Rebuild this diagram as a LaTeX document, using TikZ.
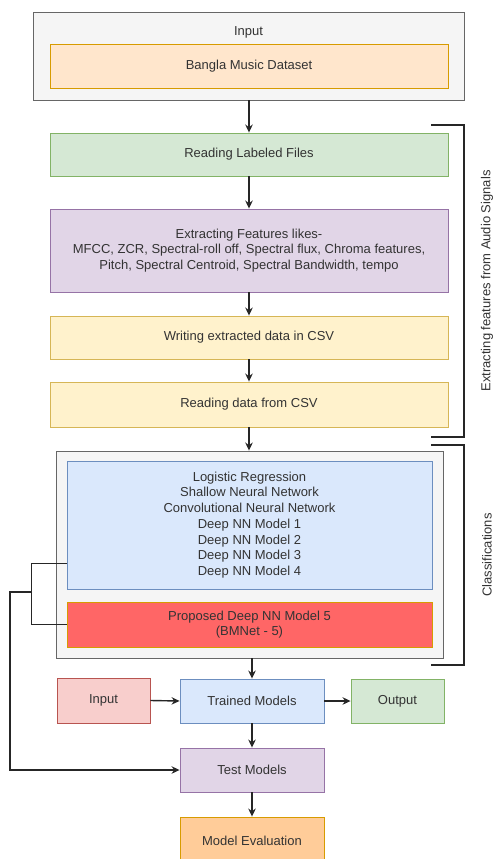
\documentclass[tikz,border=0pt]{standalone}
\usepackage{fontspec}
\setmainfont{Liberation Sans}
\usetikzlibrary{arrows.meta,calc}
\definecolor{txt}{HTML}{333333}
\definecolor{grayF}{HTML}{F5F5F5}\definecolor{grayS}{HTML}{666666}
\definecolor{orF}{HTML}{FFE6CC}\definecolor{orS}{HTML}{D79B00}
\definecolor{grF}{HTML}{D5E8D4}\definecolor{grS}{HTML}{82B366}
\definecolor{puF}{HTML}{E1D5E7}\definecolor{puS}{HTML}{9673A6}
\definecolor{yeF}{HTML}{FFF2CC}\definecolor{yeS}{HTML}{D6B656}
\definecolor{blF}{HTML}{DAE8FC}\definecolor{blS}{HTML}{6C8EBF}
\definecolor{rdF}{HTML}{FF6666}\definecolor{rdS}{HTML}{D79B00}
\definecolor{pkF}{HTML}{F8CECC}\definecolor{pkS}{HTML}{B85450}
\definecolor{evF}{HTML}{FFCC99}\definecolor{evS}{HTML}{D79B00}
\begin{document}
\begin{tikzpicture}[x=1pt,y=-1pt,
  box/.style={draw, line width=0.9pt, rectangle, inner sep=0pt, align=center,
    text=txt, font=\fontsize{13}{15.7}\selectfont},
  lbl/.style={text=txt, inner sep=0pt, font=\fontsize{13}{15.7}\selectfont},
  conn/.style={draw=black!85, line width=1.4pt},
  arr/.style={conn, -{Stealth[length=8pt,width=7.5pt]}},
  brk/.style={draw=black!85, line width=1.2pt}]
\useasboundingbox (0,0) rectangle (493,859);
% input group
\node[box, fill=grayF, draw=grayS, minimum width=431pt, minimum height=88pt] (inbox) at (248.5,56) {};
\node[lbl] (inlabel) at (248.5,32) {Input};
\node[box, fill=orF, draw=orS, minimum width=398pt, minimum height=44pt] (bangla) at (249,66) {Bangla Music Dataset};
% feature extraction
\node[box, fill=grF, draw=grS, minimum width=398pt, minimum height=43pt] (readlab) at (249,154.5) {Reading Labeled Files};
\node[box, fill=puF, draw=puS, minimum width=398pt, minimum height=83pt] (extract) at (249,250.5)
  {Extracting Features likes-\\MFCC, ZCR, Spectral-roll off, Spectral flux, Chroma features,\\Pitch, Spectral Centroid, Spectral Bandwidth, tempo};
\node[box, fill=yeF, draw=yeS, minimum width=398pt, minimum height=43pt] (write) at (249,337.5) {Writing extracted data in CSV};
\node[box, fill=yeF, draw=yeS, minimum width=398pt, minimum height=45pt] (readcsv) at (249,404.5) {Reading data from CSV};
% classification
\node[box, fill=grayF, draw=grayS, minimum width=387pt, minimum height=207pt] (classbox) at (249.5,554.5) {};
\node[box, fill=blF, draw=blS, minimum width=365pt, minimum height=128pt] (blue) at (249.5,525)
  {Logistic Regression\\Shallow Neural Network\\Convolutional Neural Network\\Deep NN Model 1\\Deep NN Model 2\\Deep NN Model 3\\Deep NN Model 4};
\node[box, fill=rdF, draw=rdS, minimum width=365pt, minimum height=45pt] (red) at (249.5,624.5)
  {Proposed Deep NN Model 5\\(BMNet - 5)};
% bottom
\node[box, fill=pkF, draw=pkS, minimum width=93pt, minimum height=45pt] (inp) at (103.5,700.5) {Input};
\node[box, fill=blF, draw=blS, minimum width=144pt, minimum height=44pt] (trained) at (252,701) {Trained Models};
\node[box, fill=grF, draw=grS, minimum width=93pt, minimum height=44pt] (output) at (397.5,701) {Output};
\node[box, fill=puF, draw=puS, minimum width=144pt, minimum height=44pt] (test) at (252,770) {Test Models};
\node[box, fill=evF, draw=evS, minimum width=144pt, minimum height=47pt] (eval) at (252,840.5) {Model Evaluation};
% vertical arrows
\draw[arr] (inbox.south -| bangla.south) -- (readlab.north);
\draw[arr] (readlab.south) -- (extract.north);
\draw[arr] (extract.south) -- (write.north);
\draw[arr] (write.south) -- (readcsv.north);
\draw[arr] (readcsv.south) -- (readcsv.south |- classbox.north);
\draw[arr] (classbox.south -| trained.north) -- (trained.north);
\draw[arr] (inp.east) -- (trained.west);
\draw[arr] (trained.east) -- (trained.east -| output.west);
\draw[arr] (trained.south) -- (test.north);
\draw[arr] (test.south) -- (eval.north);
% left connectors
\coordinate (bl) at ($(blue.south west)+(0,-26)$);
\coordinate (jtop) at ($(bl)+(-35,0)$);
\coordinate (jn) at (32,592);
\coordinate (far) at (10,592);
\draw[conn] (bl) -- (jtop) |- (red.west);
\draw[arr] (jn) -- (far) |- (test.west);
% brackets
\coordinate (b1a) at (431,125); \coordinate (b1b) at (464,125);
\coordinate (b1c) at (464,437); \coordinate (b1d) at (431,437);
\draw[brk] (b1a) -- (b1b) -- (b1c) -- (b1d);
\coordinate (b2a) at (431,445); \coordinate (b2b) at (464,445);
\coordinate (b2c) at (464,665); \coordinate (b2d) at (431,665);
\draw[brk] (b2a) -- (b2b) -- (b2c) -- (b2d);
\node[lbl, rotate=90] (extlbl) at (487,281) {Extracting features from Audio Signals};
\node[lbl, rotate=90] (clslbl) at (487,555) {Classifications};
\end{tikzpicture}
\end{document}
